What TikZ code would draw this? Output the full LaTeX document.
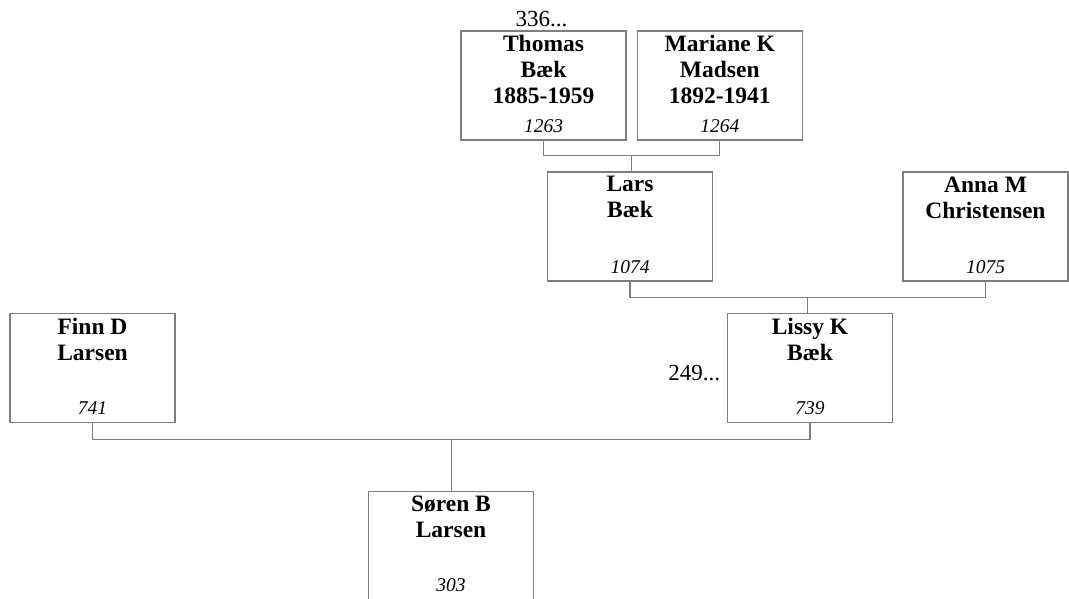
\documentclass[tikz,border=0pt]{standalone}
\usepackage{fontspec}
\setmainfont{Liberation Serif}
\usetikzlibrary{%
	calc,%
	positioning,%
}
\definecolor{cgrey}{RGB}{125, 125, 125}
\tikzset{
	nodes={align=center},%
	person/.style={%
			draw=cgrey,%
			rectangle,%
			line width=1.3pt,%
			minimum width=165pt,%
			minimum height=109pt,%
			inner sep=0},%
	pname/.style={%
			anchor=north,%
			inner sep=0,%
			font={\fontsize{23.5}{26}\selectfont\bfseries}},%
	pid/.style={%
			anchor=base,%
			inner sep=0,%
			font={\fontsize{19.5}{22}\selectfont\itshape}},%
	more/.style={%
			inner sep=0,%
			font={\fontsize{23}{26}\selectfont}},%
	link/.style={%
			draw=cgrey,%
			line width=1.3pt},%
}

\begin{document}
\begin{tikzpicture}[x=1pt, y=-1pt, node distance=10pt]
	\clip (0,0) rectangle (1069,598);

	\node[person] (thomas) at (543.5,85.5) {};
	\node[person] (mariane) [right=of thomas] {};
	\node[person] (lars) at (630,226.5) {};
	\node[person] (anna) at (985.5,226.5) {};
	\node[person] (lissy) at (810,368) {};
	\node[person] (finn) at (92.5,368) {};
	\node[person] (soren) at (451,546) {};

	\node[pname] (thomas-n) at ($(thomas.north)+(0,5)$) {Thomas\\Bæk\\1885-1959};
	\node[pname] (mariane-n) at ($(mariane.north)+(0,5)$) {Mariane K\\Madsen\\1892-1941};
	\node[pname] (lars-n) at ($(lars.north)+(0,5)$) {Lars\\Bæk};
	\node[pname] (anna-n) at ($(anna.north)+(0,5)$) {Anna M\\Christensen};
	\node[pname] (lissy-n) at ($(lissy.north)+(0,5)$) {Lissy K\\Bæk};
	\node[pname] (finn-n) at ($(finn.north)+(0,5)$) {Finn D\\Larsen};
	\node[pname] (soren-n) at ($(soren.north)+(0,5)$) {Søren B\\Larsen};

	\node[pid] (thomas-id) at ($(thomas.south)+(0,-8.5)$) {1263};
	\node[pid] (mariane-id) at ($(mariane.south)+(0,-8.5)$) {1264};
	\node[pid] (lars-id) at ($(lars.south)+(0,-8.5)$) {1074};
	\node[pid] (anna-id) at ($(anna.south)+(0,-8.5)$) {1075};
	\node[pid] (lissy-id) at ($(lissy.south)+(0,-8.5)$) {739};
	\node[pid] (finn-id) at ($(finn.south)+(0,-8.5)$) {741};
	\node[pid] (soren-id) at ($(soren.south)+(0,-10)$) {303};

	\node[more, anchor=base] (thomas-more) at ($(thomas.north)+(-2,-4)$) {336...};
	\node[more, anchor=base east] (lissy-more) at ($(lissy.west)+(-6.5,12)$) {249...};

	\coordinate (tm) at ($(thomas.south)!0.5!(mariane.south)+(0,15)$);
	\coordinate (la) at ($(lars.south)!0.5!(anna.south)+(0,16)$);
	\coordinate (fl) at ($(finn.south)!0.5!(lissy.south)+(0,16)$);

	\draw[link] (thomas.south) |- (tm) -| (mariane.south);
	\draw[link] (tm) -- (tm |- lars.north);
	\draw[link] (lars.south) |- (la) -| (anna.south);
	\draw[link] (la) -- (la |- lissy.north);
	\draw[link] (finn.south) |- (fl) -| (lissy.south);
	\draw[link] (fl) -- (fl |- soren.north);
\end{tikzpicture}
\end{document}
